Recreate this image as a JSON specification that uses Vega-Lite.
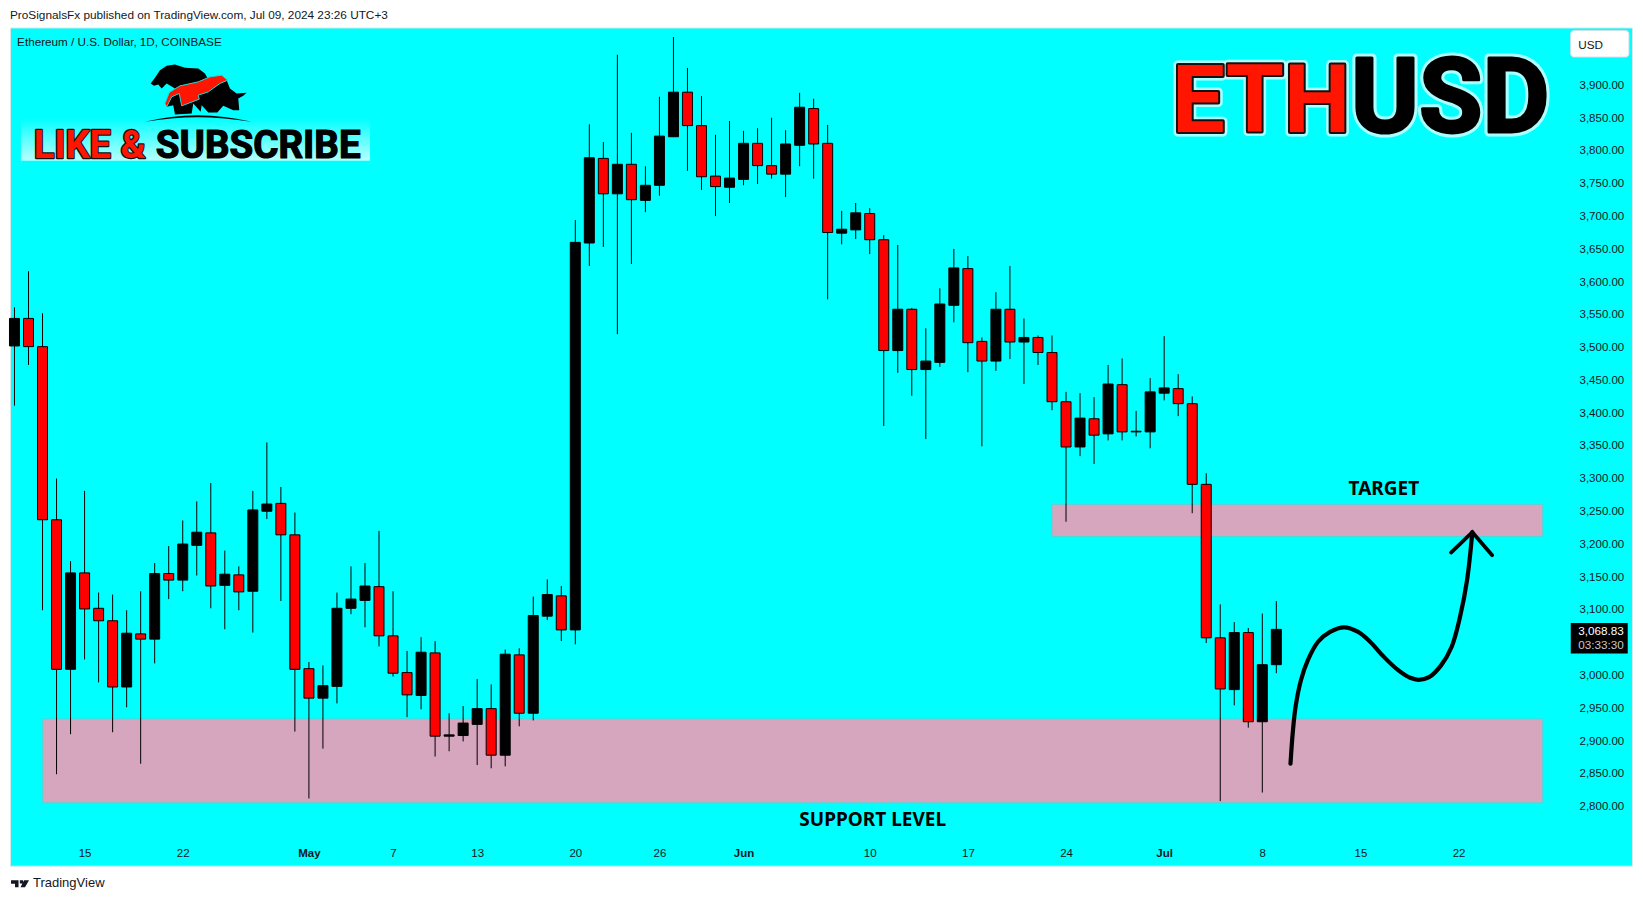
{"$schema":"https://vega.github.io/schema/vega-lite/v6.json","autosize":{"type":"none"},"padding":{"left":10,"top":27.5,"right":11,"bottom":35.3},"width":1622,"height":838.2,"background":"#ffffff","view":{"fill":"#00ffff","stroke":"#d5e8ea","strokeWidth":1},"title":{"text":"ProSignalsFx published on TradingView.com, Jul 09, 2024 23:26 UTC+3","anchor":"start","frame":"group","fontSize":11.8,"fontWeight":"normal","font":"Liberation Sans","color":"#131722","offset":6},"datasets":{"candles":[{"date":"2024-04-10","open":3501,"high":3560,"low":3410,"close":3543},{"date":"2024-04-11","open":3543,"high":3615,"low":3472,"close":3500},{"date":"2024-04-12","open":3500,"high":3551,"low":3098,"close":3236},{"date":"2024-04-13","open":3236,"high":3299,"low":2848,"close":3008},{"date":"2024-04-14","open":3008,"high":3173,"low":2909,"close":3155},{"date":"2024-04-15","open":3155,"high":3280,"low":3023,"close":3100},{"date":"2024-04-16","open":3101,"high":3125,"low":2988,"close":3082},{"date":"2024-04-17","open":3082,"high":3122,"low":2912,"close":2981},{"date":"2024-04-18","open":2981,"high":3098,"low":2950,"close":3063},{"date":"2024-04-19","open":3062,"high":3127,"low":2864,"close":3054},{"date":"2024-04-20","open":3054,"high":3170,"low":3017,"close":3154},{"date":"2024-04-21","open":3154,"high":3196,"low":3115,"close":3144},{"date":"2024-04-22","open":3144,"high":3235,"low":3127,"close":3199},{"date":"2024-04-23","open":3197,"high":3264,"low":3151,"close":3217},{"date":"2024-04-24","open":3216,"high":3292,"low":3101,"close":3135},{"date":"2024-04-25","open":3136,"high":3189,"low":3069,"close":3153},{"date":"2024-04-26","open":3152,"high":3165,"low":3098,"close":3126},{"date":"2024-04-27","open":3127,"high":3280,"low":3064,"close":3251},{"date":"2024-04-28","open":3249,"high":3354,"low":3237,"close":3260},{"date":"2024-04-29","open":3261,"high":3286,"low":3112,"close":3213},{"date":"2024-04-30","open":3213,"high":3247,"low":2913,"close":3008},{"date":"2024-05-01","open":3009,"high":3019,"low":2811,"close":2964},{"date":"2024-05-02","open":2964,"high":3014,"low":2887,"close":2983},{"date":"2024-05-03","open":2982,"high":3125,"low":2956,"close":3101},{"date":"2024-05-04","open":3101,"high":3165,"low":3092,"close":3115},{"date":"2024-05-05","open":3113,"high":3170,"low":3072,"close":3135},{"date":"2024-05-06","open":3134,"high":3219,"low":3043,"close":3059},{"date":"2024-05-07","open":3059,"high":3127,"low":2997,"close":3002},{"date":"2024-05-08","open":3003,"high":3036,"low":2935,"close":2969},{"date":"2024-05-09","open":2968,"high":3057,"low":2947,"close":3034},{"date":"2024-05-10","open":3033,"high":3051,"low":2875,"close":2906},{"date":"2024-05-11","open":2906,"high":2941,"low":2883,"close":2908},{"date":"2024-05-12","open":2907,"high":2952,"low":2898,"close":2926},{"date":"2024-05-13","open":2924,"high":2993,"low":2862,"close":2948},{"date":"2024-05-14","open":2948,"high":2985,"low":2857,"close":2877},{"date":"2024-05-15","open":2877,"high":3038,"low":2860,"close":3031},{"date":"2024-05-16","open":3030,"high":3040,"low":2921,"close":2941},{"date":"2024-05-17","open":2941,"high":3119,"low":2930,"close":3090},{"date":"2024-05-18","open":3089,"high":3145,"low":3083,"close":3122},{"date":"2024-05-19","open":3120,"high":3135,"low":3051,"close":3068},{"date":"2024-05-20","open":3068,"high":3693,"low":3046,"close":3659},{"date":"2024-05-21","open":3658,"high":3839,"low":3623,"close":3788},{"date":"2024-05-22","open":3787,"high":3812,"low":3652,"close":3733},{"date":"2024-05-23","open":3733,"high":3945,"low":3519,"close":3778},{"date":"2024-05-24","open":3778,"high":3826,"low":3626,"close":3724},{"date":"2024-05-25","open":3723,"high":3775,"low":3705,"close":3746},{"date":"2024-05-26","open":3746,"high":3881,"low":3730,"close":3821},{"date":"2024-05-27","open":3820,"high":3972,"low":3820,"close":3888},{"date":"2024-05-28","open":3888,"high":3925,"low":3768,"close":3837},{"date":"2024-05-29","open":3837,"high":3882,"low":3739,"close":3759},{"date":"2024-05-30","open":3760,"high":3823,"low":3699,"close":3744},{"date":"2024-05-31","open":3743,"high":3844,"low":3719,"close":3757},{"date":"2024-06-01","open":3755,"high":3829,"low":3746,"close":3810},{"date":"2024-06-02","open":3810,"high":3833,"low":3748,"close":3776},{"date":"2024-06-03","open":3776,"high":3849,"low":3756,"close":3763},{"date":"2024-06-04","open":3763,"high":3830,"low":3728,"close":3809},{"date":"2024-06-05","open":3807,"high":3887,"low":3775,"close":3865},{"date":"2024-06-06","open":3863,"high":3878,"low":3756,"close":3809},{"date":"2024-06-07","open":3810,"high":3838,"low":3572,"close":3674},{"date":"2024-06-08","open":3673,"high":3707,"low":3656,"close":3679},{"date":"2024-06-09","open":3678,"high":3719,"low":3664,"close":3704},{"date":"2024-06-10","open":3703,"high":3711,"low":3641,"close":3663},{"date":"2024-06-11","open":3663,"high":3670,"low":3379,"close":3494},{"date":"2024-06-12","open":3494,"high":3655,"low":3460,"close":3557},{"date":"2024-06-13","open":3557,"high":3559,"low":3425,"close":3465},{"date":"2024-06-14","open":3465,"high":3528,"low":3359,"close":3478},{"date":"2024-06-15","open":3476,"high":3589,"low":3469,"close":3565},{"date":"2024-06-16","open":3563,"high":3649,"low":3537,"close":3620},{"date":"2024-06-17","open":3619,"high":3638,"low":3461,"close":3506},{"date":"2024-06-18","open":3508,"high":3514,"low":3348,"close":3478},{"date":"2024-06-19","open":3478,"high":3583,"low":3463,"close":3557},{"date":"2024-06-20","open":3557,"high":3623,"low":3481,"close":3507},{"date":"2024-06-21","open":3507,"high":3543,"low":3443,"close":3514},{"date":"2024-06-22","open":3514,"high":3517,"low":3472,"close":3491},{"date":"2024-06-23","open":3491,"high":3517,"low":3403,"close":3416},{"date":"2024-06-24","open":3416,"high":3431,"low":3233,"close":3347},{"date":"2024-06-25","open":3347,"high":3429,"low":3333,"close":3391},{"date":"2024-06-26","open":3390,"high":3423,"low":3321,"close":3365},{"date":"2024-06-27","open":3367,"high":3472,"low":3357,"close":3443},{"date":"2024-06-28","open":3442,"high":3482,"low":3357,"close":3370},{"date":"2024-06-29","open":3370,"high":3402,"low":3363,"close":3371},{"date":"2024-06-30","open":3370,"high":3452,"low":3345,"close":3431},{"date":"2024-07-01","open":3429,"high":3516,"low":3418,"close":3437},{"date":"2024-07-02","open":3436,"high":3458,"low":3394,"close":3413},{"date":"2024-07-03","open":3413,"high":3424,"low":3246,"close":3290},{"date":"2024-07-04","open":3290,"high":3307,"low":3048,"close":3056},{"date":"2024-07-05","open":3056,"high":3107,"low":2807,"close":2978},{"date":"2024-07-06","open":2977,"high":3080,"low":2953,"close":3064},{"date":"2024-07-07","open":3064,"high":3071,"low":2919,"close":2928},{"date":"2024-07-08","open":2928,"high":3093,"low":2820,"close":3015},{"date":"2024-07-09","open":3015,"high":3112,"low":3002,"close":3068.83}],"curve":[{"date":"2024-07-10T00:15:00Z","price":2864},{"date":"2024-07-10T04:00:00Z","price":2910},{"date":"2024-07-10T09:00:00Z","price":2951},{"date":"2024-07-10T18:00:00Z","price":2991},{"date":"2024-07-11T06:00:00Z","price":3022},{"date":"2024-07-11T23:30:00Z","price":3050},{"date":"2024-07-12T20:00:00Z","price":3065},{"date":"2024-07-13T20:00:00Z","price":3072},{"date":"2024-07-14T20:00:00Z","price":3065},{"date":"2024-07-15T16:30:00Z","price":3050},{"date":"2024-07-16T16:00:00Z","price":3027},{"date":"2024-07-17T16:00:00Z","price":3007},{"date":"2024-07-18T13:00:00Z","price":2995},{"date":"2024-07-19T03:30:00Z","price":2992},{"date":"2024-07-19T21:30:00Z","price":2996},{"date":"2024-07-20T18:00:00Z","price":3014},{"date":"2024-07-21T12:00:00Z","price":3042},{"date":"2024-07-22T02:30:00Z","price":3088},{"date":"2024-07-22T14:30:00Z","price":3144},{"date":"2024-07-22T23:30:00Z","price":3217}],"arrow":[{"date":"2024-07-21T11:00:00Z","price":3186},{"date":"2024-07-22T23:30:00Z","price":3217},{"date":"2024-07-24T09:30:00Z","price":3182}],"zones":[{"name":"support","start":"2024-04-12","end":"2024-07-28","low":2804.5,"high":2932.5},{"name":"target","start":"2024-06-23","end":"2024-07-28","low":3210.5,"high":3259.5}]},"encoding":{"x":{"field":"date","type":"temporal","title":null,"scale":{"type":"utc","padding":0,"domain":[{"year":2024,"month":4,"date":9,"hours":16,"minutes":20,"utc":true},{"year":2024,"month":8,"date":3,"hours":8,"minutes":50,"utc":true}]},"axis":{"orient":"bottom","offset":-18,"domain":false,"ticks":false,"grid":false,"labelPadding":0,"labelFont":"Liberation Sans","labelFontSize":11.5,"labelColor":"#131722","labelOverlap":false,"labelFlush":false,"values":[{"year":2024,"month":4,"date":15,"utc":true},{"year":2024,"month":4,"date":22,"utc":true},{"year":2024,"month":5,"date":1,"utc":true},{"year":2024,"month":5,"date":7,"utc":true},{"year":2024,"month":5,"date":13,"utc":true},{"year":2024,"month":5,"date":20,"utc":true},{"year":2024,"month":5,"date":26,"utc":true},{"year":2024,"month":6,"date":1,"utc":true},{"year":2024,"month":6,"date":10,"utc":true},{"year":2024,"month":6,"date":17,"utc":true},{"year":2024,"month":6,"date":24,"utc":true},{"year":2024,"month":7,"date":1,"utc":true},{"year":2024,"month":7,"date":8,"utc":true},{"year":2024,"month":7,"date":15,"utc":true},{"year":2024,"month":7,"date":22,"utc":true}],"labelExpr":"utcdate(datum.value)===1 ? utcFormat(datum.value,'%b') : utcFormat(datum.value,'%-d')","labelFontWeight":{"condition":{"test":"utcdate(datum.value)===1","value":"bold"},"value":"normal"}}},"y":{"field":"price","type":"quantitative","title":null,"scale":{"domain":[2708.5,3986.6],"nice":false,"zero":false},"axis":{"orient":"right","offset":-53,"domain":false,"ticks":false,"grid":false,"labelPadding":0,"labelAlign":"left","labelOffset":1,"labelFont":"Liberation Sans","labelFontSize":11.5,"labelColor":"#131722","format":",.2f","labelOverlap":false,"values":[2800,2850,2900,2950,3000,3100,3150,3200,3250,3300,3350,3400,3450,3500,3550,3600,3650,3700,3750,3800,3850,3900]}}},"layer":[{"data":{"name":"zones"},"mark":{"type":"rect","fill":"#d6a5be","stroke":"#33ddd8","strokeWidth":0.6},"encoding":{"x":{"field":"start","type":"temporal"},"x2":{"field":"end"},"y":{"field":"low","type":"quantitative"},"y2":{"field":"high"}}},{"data":{"values":[{"date":"2024-04-10T11:00:00Z","end":"2024-05-05T08:40:00Z","price":3783.5,"top":3848.6}]},"mark":{"type":"rect","fill":{"gradient":"linear","x1":0,"y1":0,"x2":0,"y2":1,"stops":[{"offset":0,"color":"#00ffff"},{"offset":1,"color":"#b8ffff"}]}},"encoding":{"x2":{"field":"end"},"y2":{"field":"top"}}},{"data":{"name":"candles"},"mark":{"type":"rule","color":"#000000","strokeWidth":1},"encoding":{"y":{"field":"low","type":"quantitative"},"y2":{"field":"high"}}},{"data":{"name":"candles"},"mark":{"type":"bar","size":10,"stroke":"#000000","strokeWidth":1},"encoding":{"y":{"field":"open","type":"quantitative"},"y2":{"field":"close"},"fill":{"condition":{"test":"datum.close < datum.open","value":"#ff0000"},"value":"#000000"}}},{"data":{"name":"curve"},"mark":{"type":"line","interpolate":"catmull-rom","color":"#000000","strokeWidth":4.2,"strokeCap":"round"}},{"data":{"name":"arrow"},"mark":{"type":"line","color":"#000000","strokeWidth":3.8,"strokeCap":"round","strokeJoin":"miter"}},{"data":{"values":[{"date":"2024-07-30","end":"2024-08-03T03:30:00Z","price":3941.7,"top":3981.8}]},"mark":{"type":"rect","fill":"#ffffff","stroke":"#e0e3eb","cornerRadius":3},"encoding":{"x2":{"field":"end"},"y2":{"field":"top"}}},{"data":{"values":[{"date":"2024-07-30","end":"2024-08-03T01:30:00Z","price":3031.9,"top":3078.4}]},"mark":{"type":"rect","fill":"#000000"},"encoding":{"x2":{"field":"end"},"y2":{"field":"top"}}},{"data":{"values":[{"date":"2024-07-30T13:00:00Z","price":3960,"label":"USD","tone":"#131722"},{"date":"2024-07-30T13:00:00Z","price":3066.5,"label":"3,068.83","tone":"#ffffff"},{"date":"2024-07-30T13:00:00Z","price":3045,"label":"03:33:30","tone":"#c8c8c8"},{"date":"2024-04-10T04:30:00Z","price":3965,"label":"Ethereum / U.S. Dollar, 1D, COINBASE","tone":"#131722"}]},"mark":{"type":"text","align":"left","baseline":"middle","font":"Liberation Sans","fontSize":11.7},"encoding":{"text":{"field":"label"},"color":{"field":"tone","type":"nominal","scale":null}}},{"data":{"values":[{"date":"2024-04-11T07:40:00Z","price":2681.5,"label":"TradingView"}]},"mark":{"type":"text","align":"left","baseline":"middle","font":"Liberation Sans","fontSize":13,"color":"#131722"},"encoding":{"text":{"field":"label"}}},{"data":{"values":[{"date":"2024-06-10T05:00:00Z","price":2778,"label":"SUPPORT LEVEL"},{"date":"2024-07-16T16:00:00Z","price":3283,"label":"TARGET"}]},"mark":{"type":"text","align":"center","baseline":"middle","font":"Noto Sans","fontWeight":"bold","fontSize":19,"color":"#000000"},"encoding":{"text":{"field":"label"}}},{"data":{"values":[{"date":"2024-07-01T13:30:00Z","price":3828,"label":"ETH"}]},"mark":{"type":"text","align":"left","baseline":"alphabetic","font":"Roboto","fontWeight":"bold","fontSize":94,"fill":"#ffffff","stroke":"#d8ffff","strokeWidth":9,"strokeOpacity":0.8,"strokeJoin":"round"},"encoding":{"text":{"field":"label"}}},{"data":{"values":[{"date":"2024-07-14T08:00:00Z","price":3827,"label":"USD"}]},"mark":{"type":"text","align":"left","baseline":"alphabetic","font":"Roboto","fontWeight":"bold","fontSize":103,"fill":"#ffffff","stroke":"#d8ffff","strokeWidth":9,"strokeOpacity":0.8,"strokeJoin":"round"},"encoding":{"text":{"field":"label"}}},{"data":{"values":[{"date":"2024-07-01T13:30:00Z","price":3828,"label":"ETH"}]},"mark":{"type":"text","align":"left","baseline":"alphabetic","font":"Roboto","fontWeight":"bold","fontSize":94,"fill":"#111111","stroke":"#111111","strokeWidth":4,"strokeJoin":"round"},"encoding":{"text":{"field":"label"}}},{"data":{"values":[{"date":"2024-07-01T13:30:00Z","price":3828,"label":"ETH"}]},"mark":{"type":"text","align":"left","baseline":"alphabetic","font":"Roboto","fontWeight":"bold","fontSize":94,"fill":"#ff1500"},"encoding":{"text":{"field":"label"}}},{"data":{"values":[{"date":"2024-07-14T08:00:00Z","price":3827,"label":"USD"}]},"mark":{"type":"text","align":"left","baseline":"alphabetic","font":"Roboto","fontWeight":"bold","fontSize":103,"fill":"#000000","stroke":"#000000","strokeWidth":3,"strokeJoin":"round"},"encoding":{"text":{"field":"label"}}},{"data":{"values":[{"date":"2024-04-11T09:00:00Z","price":3787.6,"label":"LIKE &"}]},"mark":{"type":"text","align":"left","baseline":"alphabetic","font":"Roboto","fontWeight":"bold","fontSize":38,"fill":"#111111","stroke":"#111111","strokeWidth":2.4,"strokeJoin":"round"},"encoding":{"text":{"field":"label"}}},{"data":{"values":[{"date":"2024-04-11T09:00:00Z","price":3787.6,"label":"LIKE &"}]},"mark":{"type":"text","align":"left","baseline":"alphabetic","font":"Roboto","fontWeight":"bold","fontSize":38,"fill":"#ff1500"},"encoding":{"text":{"field":"label"}}},{"data":{"values":[{"date":"2024-04-20T02:00:00Z","price":3787.6,"label":"SUBSCRIBE"}]},"mark":{"type":"text","align":"left","baseline":"alphabetic","font":"Roboto","fontWeight":"bold","fontSize":38.5,"fill":"#000000","stroke":"#000000","strokeWidth":1.2},"encoding":{"text":{"field":"label"}}},{"data":{"values":[{"date":"2024-04-23T05:30:00Z","price":3888}]},"mark":{"type":"point","filled":true,"opacity":1,"size":4,"color":"#000000","shape":"M-49.3,-8.7L-45,-14.3L-40,-22L-33.3,-26.3L-25,-27.7L-15,-24.3L-1.7,-23.7L5,-18.7L8.3,-12.7L26.7,-12L30,-3.7L36.7,1.3L46.7,0.7L43.3,3.7L38.3,6.3L39.3,18L33.3,18L23.3,13.7L17.3,20.3L8.3,20.3L1.7,13L0.7,19.7L-6.7,11.3L-8.3,21.3L-25,22.3L-26.7,13L-33.3,14.7L-31.7,4.7L-25,-3.7L-33.3,-8.7L-38.3,-3.7L-41.7,-7.7L-46,-6.3ZM-55,29.7Q-3.3,16.3,51.7,29.7Q-3.3,20.3,-55,29.7Z"}},{"data":{"values":[{"date":"2024-04-23T05:30:00Z","price":3888}]},"mark":{"type":"point","filled":true,"opacity":1,"size":4,"color":"#ff1500","stroke":"#22d8d8","strokeWidth":1,"shape":"M-35,11.3L-30.7,0.3L-20,-6.3L-1.7,-10.3L10,-15.3L21.7,-17L27.7,-12L20,-8.7L8.3,-0.3L-1.7,3L-0.7,7L-18.3,13.7L-20.7,1.3L-28.3,4.7L-33.3,14.7Z"}},{"data":{"values":[{"date":"2024-04-10T09:30:00Z","price":2681}]},"mark":{"type":"point","filled":true,"opacity":1,"size":4,"color":"#131722","shape":"M-9,-3.4H-1.5V3.4H-5V0H-9ZM4,-3.4H9L5,3.4H0.5ZM-0.2,-3.4H3V-0.2H-0.2Z"}}]}
